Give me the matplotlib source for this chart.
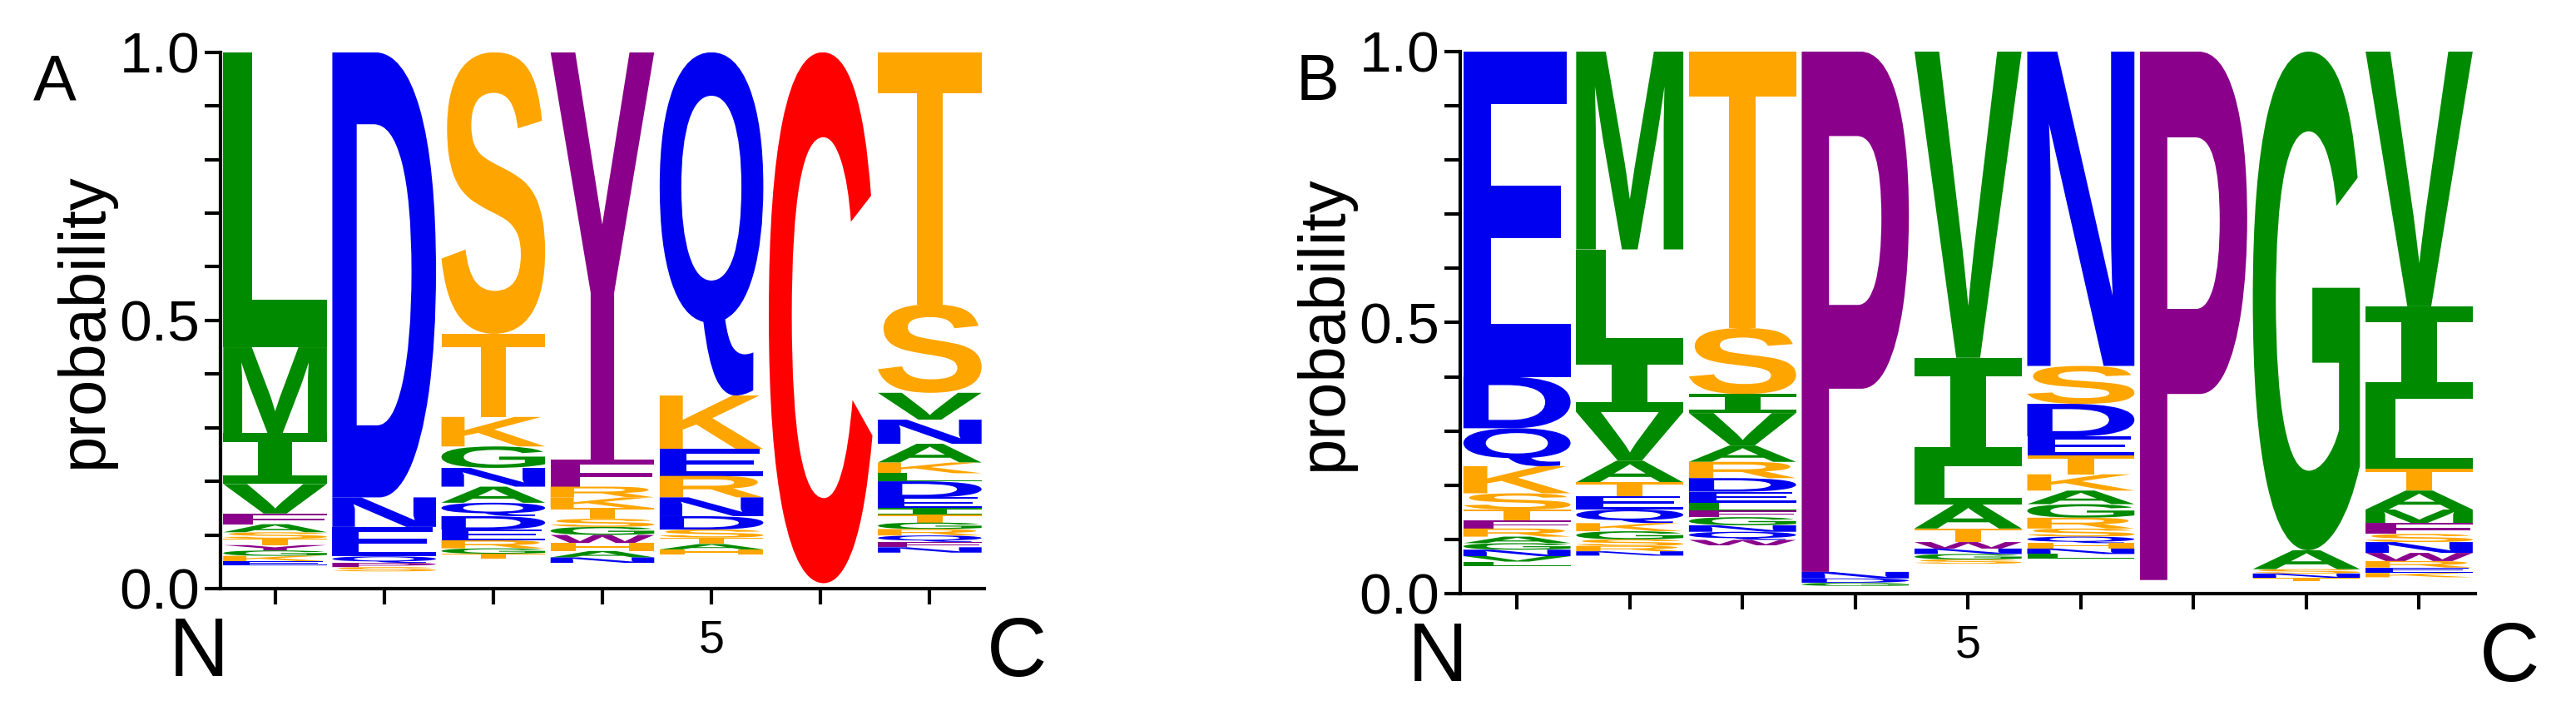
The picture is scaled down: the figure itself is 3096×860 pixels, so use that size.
import matplotlib
matplotlib.use("Agg")
import matplotlib.pyplot as plt
from matplotlib.textpath import TextPath
from matplotlib.patches import PathPatch
from matplotlib.font_manager import FontProperties
from matplotlib.transforms import Affine2D

# letter stacks per position, listed from top of the stack downwards
logo_a = [
    [("L", 0.55), ("M", 0.16), ("I", 0.095), ("V", 0.055), ("F", 0.02), ("A", 0.015),
     ("S", 0.012), ("T", 0.012), ("Y", 0.01), ("G", 0.01), ("K", 0.01), ("E", 0.008)],
    [("D", 0.83), ("N", 0.055), ("E", 0.055), ("Q", 0.012), ("P", 0.008), ("S", 0.008)],
    [("S", 0.525), ("T", 0.155), ("K", 0.055), ("G", 0.04), ("N", 0.035), ("A", 0.03),
     ("Q", 0.025), ("D", 0.025), ("E", 0.02), ("R", 0.015), ("G", 0.01), ("T", 0.01)],
    [("Y", 0.76), ("F", 0.05), ("R", 0.02), ("K", 0.02), ("T", 0.02), ("S", 0.015),
     ("G", 0.015), ("W", 0.015), ("H", 0.015), ("A", 0.012), ("N", 0.01)],
    [("Q", 0.64), ("K", 0.10), ("E", 0.05), ("R", 0.04), ("N", 0.035), ("D", 0.025),
     ("S", 0.015), ("T", 0.012), ("A", 0.01), ("H", 0.01)],
    [("C", 0.99)],
    [("T", 0.47), ("S", 0.165), ("V", 0.05), ("N", 0.045), ("A", 0.035), ("K", 0.02),
     ("L", 0.015), ("D", 0.03), ("E", 0.02), ("I", 0.012), ("T", 0.015), ("G", 0.012),
     ("R", 0.012), ("Q", 0.012), ("F", 0.01), ("N", 0.01)],
]

logo_b = [
    [("E", 0.60), ("D", 0.095), ("Q", 0.07), ("K", 0.05), ("S", 0.03), ("T", 0.02),
     ("F", 0.015), ("R", 0.015), ("A", 0.012), ("G", 0.012), ("N", 0.012), ("V", 0.01),
     ("L", 0.008)],
    [("M", 0.365), ("L", 0.195), ("I", 0.105), ("V", 0.09), ("A", 0.04), ("T", 0.025),
     ("E", 0.025), ("Q", 0.025), ("K", 0.015), ("G", 0.015), ("S", 0.012), ("R", 0.01),
     ("N", 0.008)],
    [("T", 0.51), ("S", 0.122), ("I", 0.035), ("V", 0.06), ("A", 0.03), ("R", 0.03),
     ("D", 0.025), ("E", 0.02), ("L", 0.015), ("F", 0.012), ("G", 0.015), ("N", 0.012),
     ("Q", 0.015), ("W", 0.01)],
    [("P", 0.96), ("N", 0.012), ("D", 0.008), ("G", 0.006)],
    [("V", 0.565), ("I", 0.20), ("L", 0.07), ("A", 0.045), ("T", 0.025), ("W", 0.012),
     ("N", 0.01), ("G", 0.01), ("S", 0.008)],
    [("N", 0.58), ("S", 0.07), ("D", 0.06), ("E", 0.035), ("T", 0.035), ("K", 0.03),
     ("A", 0.025), ("G", 0.025), ("R", 0.02), ("S", 0.015), ("Q", 0.012), ("H", 0.01),
     ("N", 0.01), ("L", 0.008)],
    [("P", 0.975)],
    [("G", 0.92), ("A", 0.035), ("S", 0.008), ("N", 0.008), ("T", 0.006)],
    [("V", 0.47), ("I", 0.17), ("L", 0.13), ("T", 0.04), ("A", 0.035), ("M", 0.025),
     ("F", 0.02), ("S", 0.015), ("N", 0.02), ("W", 0.015), ("R", 0.012), ("E", 0.01),
     ("K", 0.008)],
]

colors = {}
for aa in "AGILMVW":
    colors[aa] = "#008a00"
for aa in "DENQ":
    colors[aa] = "#0000f0"
for aa in "STKRH":
    colors[aa] = "#ffa500"
for aa in "FYP":
    colors[aa] = "#8a008a"
colors["C"] = "#ff0000"
colors["W"] = "#8a008a"

letter_font = FontProperties(family="Liberation Sans", weight="bold")
serif_i_font = FontProperties(family="DejaVu Sans Mono", weight="bold")
label_font = ["Liberation Sans Narrow", "Liberation Sans", "DejaVu Sans"]


def draw_letter(ax, letter, x, y, w, h):
    prop = serif_i_font if letter == "I" else letter_font
    tp = TextPath((0, 0), letter, size=100, prop=prop)
    bb = tp.get_extents()
    tr = (Affine2D().translate(-bb.x0, -bb.y0)
          .scale(w / bb.width, h / bb.height).translate(x, y))
    ax.add_patch(PathPatch(tr.transform_path(tp), lw=0, color=colors[letter]))


def draw_logo(ax, logo):
    n = len(logo)
    for i, col in enumerate(logo):
        top = 1.0
        for letter, p in col:
            draw_letter(ax, letter, i + 1 - 0.475, top - p, 0.95, p)
            top -= p
    ax.set_xlim(0.5, n + 0.5)
    ax.set_ylim(0, 1)
    for s in ["top", "right"]:
        ax.spines[s].set_visible(False)
    for s in ["left", "bottom"]:
        ax.spines[s].set_linewidth(3)
    ax.set_yticks([0, 0.5, 1.0])
    ax.set_yticklabels(["0.0", "0.5", "1.0"], family=label_font, fontsize=50)
    ax.set_yticks([i / 10 for i in range(11)], minor=True)
    ax.set_xticks(range(1, n + 1))
    ax.set_xticklabels(["5" if i == 5 else "" for i in range(1, n + 1)],
                       family=label_font, fontsize=40)
    ax.tick_params(axis="both", which="major", length=14, width=3, direction="out")
    ax.tick_params(axis="y", which="minor", length=14, width=3, direction="out")
    ax.tick_params(axis="x", pad=12)
    ax.tick_params(axis="y", pad=4)
    ax.set_ylabel("probability", fontsize=56, labelpad=4, family=label_font)
    ax.text(0.3, -0.05, "N", transform=ax.get_xaxis_transform(), ha="center",
            va="top", fontsize=72, family=label_font)
    ax.text(n + 0.8, -0.05, "C", transform=ax.get_xaxis_transform(), ha="center",
            va="top", fontsize=72, family=label_font)


fig = plt.figure(figsize=(30.96, 8.6), dpi=100)
ax_a = fig.add_axes([0.0856, 0.178, 0.2965, 0.749])
ax_b = fig.add_axes([0.567, 0.171, 0.394, 0.757])
draw_logo(ax_a, logo_a)
draw_logo(ax_b, logo_b)
fig.text(0.013, 0.86, "A", fontsize=56, family=label_font)
fig.text(0.503, 0.86, "B", fontsize=56, family=label_font)
fig.savefig("out.png", dpi=100)
